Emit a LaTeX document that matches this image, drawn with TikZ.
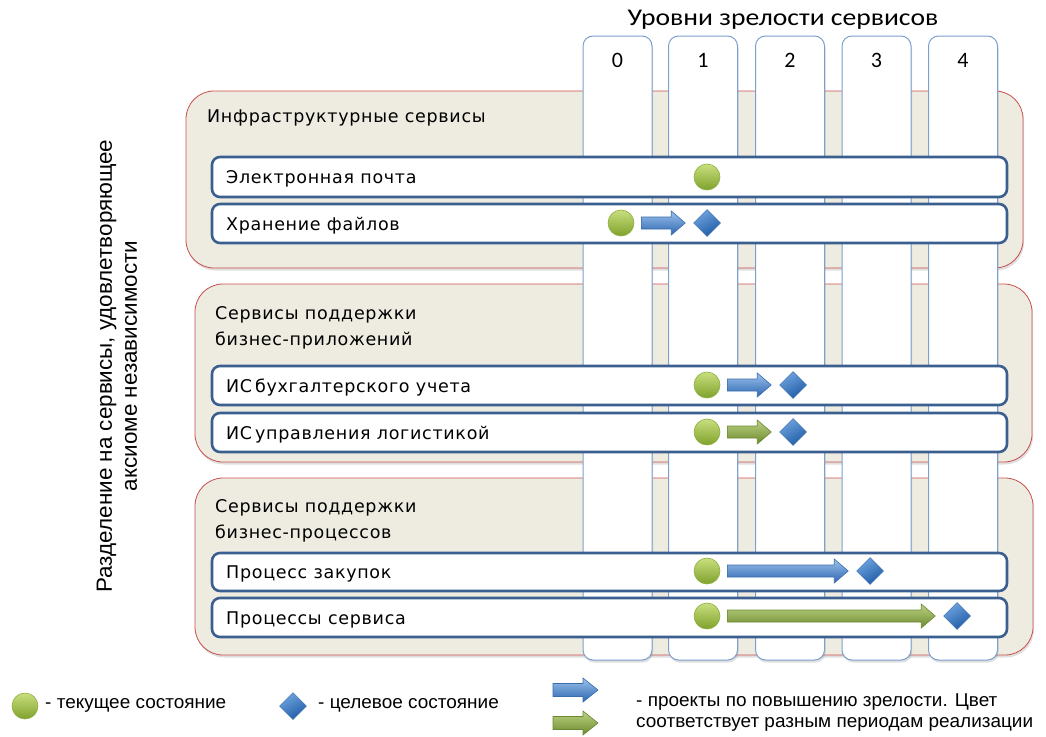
\documentclass[tikz,border=0pt]{standalone}
\usepackage{fontspec}
\setmainfont{DejaVu Sans}[LetterSpace=4]
\newfontfamily\titlefont[FakeStretch=1.15]{Carlito}
\newfontfamily\numfont{Carlito}
\newfontfamily\narrowfont[FakeStretch=1.02]{Liberation Sans}
\usetikzlibrary{shapes.geometric,shadows,calc}

\definecolor{groupfill}{HTML}{EEEBE1}
\definecolor{groupline}{HTML}{C9504D}
\definecolor{colline}{HTML}{7BA0CF}
\definecolor{rowline}{HTML}{3B5F8E}
\definecolor{balltop}{HTML}{C9DF7E}
\definecolor{ballbot}{HTML}{7FA12C}
\definecolor{ballline}{HTML}{8DAF3E}
\definecolor{diatop}{HTML}{6FA3DE}
\definecolor{diabot}{HTML}{1F5CA6}
\definecolor{blueA}{HTML}{9CC2EC}
\definecolor{blueB}{HTML}{2C66B0}
\definecolor{blueL}{HTML}{3A6DAE}
\definecolor{greenA}{HTML}{BCD283}
\definecolor{greenB}{HTML}{6C8A2D}
\definecolor{greenL}{HTML}{6A8834}

\tikzset{
  groupbox/.style={draw=groupline, line width=0.8pt, fill=groupfill, rounded corners=28pt,
    drop shadow={shadow xshift=1pt, shadow yshift=-2.5pt, opacity=0.25}},
  levelcol/.style={draw=colline, line width=1pt, fill=white, rounded corners=10pt,
    minimum width=69pt, minimum height=624pt, inner sep=0pt,
    drop shadow={shadow xshift=1pt, shadow yshift=-2.5pt, opacity=0.25}},
  rowbox/.style={draw=rowline, line width=2.6pt, fill=white, rounded corners=8pt},
  grouplabel/.style={anchor=west, font=\fontsize{17.5}{26}\selectfont, align=left, inner sep=0pt},
  rowlabel/.style={anchor=west, font=\fontsize{17.5}{19}\selectfont, inner sep=0pt},
  current/.style={circle, minimum size=26pt, inner sep=0pt, draw=ballline, line width=0.6pt,
    top color=balltop, bottom color=ballbot},
  target/.style={diamond, minimum size=27pt, inner sep=0pt, draw=blueL, line width=0.5pt,
    shading=axis, top color=diatop, bottom color=diabot, shading angle=30},
  bluearrow/.style={draw=blueL, line width=0.6pt, top color=blueA, bottom color=blueB},
  greenarrow/.style={draw=greenL, line width=0.6pt, top color=greenA, bottom color=greenB},
  legendtext/.style={anchor=west, inner sep=0pt, font=\narrowfont\fontsize{18.6}{22}\selectfont},
  levelnum/.style={font=\numfont\fontsize{22}{26}\selectfont},
}

% block arrow between two points: style, start, end, half shaft, half head, head length
\newcommand\blockarrow[6]{%
  \path[#1] let \p1=#2, \p2=#3 in
    (\x1,\y1+#4) -- (\x2-#6,\y1+#4) -- (\x2-#6,\y1+#5) -- (\x2,\y1)
    -- (\x2-#6,\y1-#5) -- (\x2-#6,\y1-#4) -- (\x1,\y1-#4) -- cycle;}
% project arrow from a current-state marker to a target-state marker
\newcommand\projarrow[3]{%
  \blockarrow{#1}{($(#2.east)+(7,0)$)}{($(#3.west)+(-8,0)$)}{6pt}{12pt}{14pt}}

\begin{document}
\begin{tikzpicture}[x=1pt,y=-1pt]
\useasboundingbox (0,0) rectangle (1046,736);

% service groups
\path[groupbox] (186,91) rectangle (1023,268);
\path[groupbox] (195,284) rectangle (1032,462);
\path[groupbox] (195,478) rectangle (1033,655);

% maturity level columns
\node[font=\titlefont\fontsize{24}{28}\selectfont] (title) at (783,20) {Уровни зрелости сервисов};
\foreach \lv/\cx in {0/617.5,1/703,2/790,3/876.5,4/963}{
  \node[levelcol] (col\lv) at (\cx,348) {};
  \node[levelnum] (num\lv) at (\cx,60) {\lv};
}

% group captions
\node[grouplabel] (g1) at (207,118) {Инфраструктурные сервисы};
\node[grouplabel, anchor=north west] (g2) at (215,306) {Сервисы поддержки\\бизнес-приложений};
\node[grouplabel, anchor=north west] (g3) at (215,499) {Сервисы поддержки\\бизнес-процессов};

% service rows
\path[rowbox] (212,157) rectangle (1007,197);
\path[rowbox] (212,204) rectangle (1007,243);
\path[rowbox] (212,366) rectangle (1007,405);
\path[rowbox] (212,413) rectangle (1007,452);
\path[rowbox] (212,553) rectangle (1007,591);
\path[rowbox] (212,598) rectangle (1007,637);

\node[rowlabel] (r1) at (226,179) {Электронная почта};
\node[rowlabel] (r2) at (226,225.5) {Хранение файлов};
\node[rowlabel] (r3) at (226,387.5) {ИС\,бухгалтерского учета};
\node[rowlabel] (r4) at (226,434.5) {ИС\,управления логистикой};
\node[rowlabel] (r5) at (226,574) {Процесс закупок};
\node[rowlabel] (r6) at (226,619.5) {Процессы сервиса};

% current and target states
\node[current] (c1) at (707,177) {};

\node[current] (c2) at (621,223) {};
\node[target] (t2) at (707,223) {};
\projarrow{bluearrow}{c2}{t2}

\node[current] (c3) at (707,385) {};
\node[target] (t3) at (793,385) {};
\projarrow{bluearrow}{c3}{t3}

\node[current] (c4) at (707,432) {};
\node[target] (t4) at (793,432) {};
\projarrow{greenarrow}{c4}{t4}

\node[current] (c5) at (707,571) {};
\node[target] (t5) at (870,571) {};
\projarrow{bluearrow}{c5}{t5}

\node[current] (c6) at (707,616) {};
\node[target] (t6) at (957,616) {};
\projarrow{greenarrow}{c6}{t6}

% axis caption
\node[rotate=90, align=center, font=\narrowfont\fontsize{22}{25}\selectfont] (axis) at (117,366)
  {Разделение на сервисы, удовлетворяющее\\аксиоме независимости};

% legend
\node[current] (lgcur) at (25,706) {};
\node[legendtext] (lgcurtext) at (45,705) {- текущее состояние};
\node[target] (lgtgt) at (293,706) {};
\node[legendtext] (lgtgttext) at (318,705) {- целевое состояние};
\coordinate (lgblueS) at (553,690);
\coordinate (lgblueE) at (598,690);
\coordinate (lggreenS) at (553,723);
\coordinate (lggreenE) at (598,723);
\blockarrow{bluearrow}{(lgblueS)}{(lgblueE)}{6.5pt}{12pt}{15pt}
\blockarrow{greenarrow}{(lggreenS)}{(lggreenE)}{6.5pt}{12pt}{15pt}
\node[legendtext] (lgarrtext1) at (636,702) {- проекты по повышению зрелости. Цвет};
\node[legendtext] (lgarrtext2) at (636,724) {соответствует разным периодам реализации};
\end{tikzpicture}
\end{document}
